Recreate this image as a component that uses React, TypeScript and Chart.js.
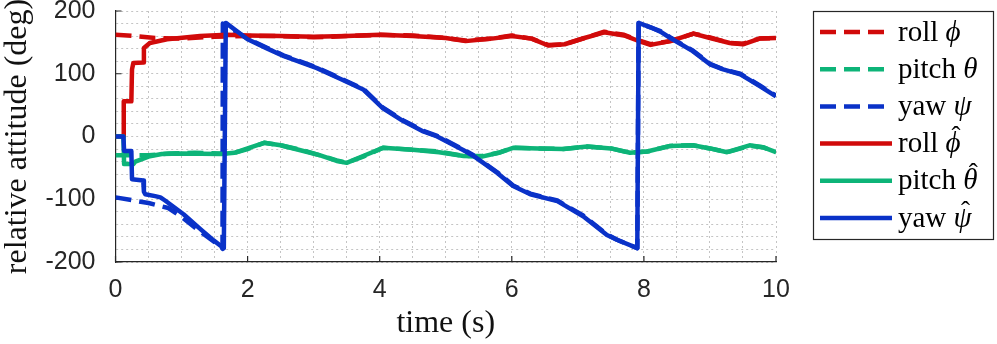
import React, { useEffect, useRef } from 'react';
import { Chart, registerables } from 'chart.js';

Chart.register(...registerables);

// ---------- data ----------
const rollT = [0, 0.3, 0.6, 1.0, 1.5, 2.0, 2.5, 3.0, 3.5, 4.0, 4.5, 5.0, 5.3, 5.7, 6.0, 6.3, 6.55, 6.8, 7.1, 7.4, 7.7, 7.9, 8.1, 8.4, 8.75, 9.0, 9.3, 9.5, 9.75, 10];
const rollV = [162, 160, 157, 156, 159, 160, 160, 158, 160, 162, 161, 157, 153, 156, 161, 156, 146, 147, 157, 167, 162, 154, 147, 152, 164, 158, 149, 148, 156, 157];

const pitchT = [0, 0.5, 0.8, 1.2, 1.6, 1.8, 2.0, 2.25, 2.5, 2.8, 3.1, 3.35, 3.5, 3.75, 4.05, 4.5, 4.9, 5.27, 5.55, 5.8, 6.02, 6.4, 6.78, 7.14, 7.5, 7.79, 8.05, 8.4, 8.74, 9.0, 9.26, 9.6, 9.8, 10];
const pitchV = [-30, -30, -27, -26, -27, -26, -20, -10, -14, -21, -30, -38, -42, -32, -18, -21, -24, -31, -31, -26, -18, -19, -20, -16, -19, -26, -24, -15, -14, -19, -25, -15, -17, -25];

const yawT = [0, 0.5, 0.8, 1.0, 1.3, 1.6, 1.62, 1.625, 2.0, 2.3, 2.55, 3.05, 3.4, 3.75, 4.05, 4.35, 4.66, 4.87, 5.27, 5.42, 5.78, 6.02, 6.28, 6.69, 7.08, 7.44, 7.6, 7.9, 7.92, 8.1, 8.25, 8.4, 8.74, 9.0, 9.2, 9.46, 9.76, 10];
const yawV = [-97, -106, -114, -128, -153, -176, -179, 180, 156, 141, 129, 110, 93, 76, 46, 26, 9, 1, -21, -30, -57, -78, -91, -102, -126, -156, -165, -178, 181, 174, 168, 158, 137, 116, 107, 100, 81, 65];

const rollHatT = [0, 0.12, 0.125, 0.24, 0.25, 0.27, 0.42, 0.43, 0.52, 0.78, 1.28, 1.69, 2.0, 2.5, 3.0, 3.5, 4.0, 4.5, 5.0, 5.3, 5.7, 6.0, 6.3, 6.55, 6.8, 7.1, 7.4, 7.7, 7.9, 8.1, 8.4, 8.75, 9.0, 9.3, 9.5, 9.75, 10];
const rollHatV = [0, 0, 56, 56, 107, 117, 118, 141, 149, 155, 160, 162, 161, 160, 159, 160, 162, 160, 157, 152, 156, 160, 156, 145, 147, 157, 166, 161, 153, 146, 152, 164, 157, 149, 147, 156, 157];

const pitchHatT = [0, 0.12, 0.13, 0.27, 0.3, 0.5, 0.7, 1.0, 1.6, 1.8, 2.0, 2.25, 2.5, 2.8, 3.1, 3.35, 3.5, 3.75, 4.05, 4.5, 4.9, 5.27, 5.55, 5.8, 6.02, 6.4, 6.78, 7.14, 7.5, 7.79, 8.05, 8.4, 8.74, 9.0, 9.26, 9.6, 9.8, 10];
const pitchHatV = [0, 0, -44, -44, -40, -32, -28, -27, -28, -26, -19, -10, -14, -22, -30, -39, -42, -31, -18, -21, -25, -31, -32, -26, -18, -19, -20, -16, -19, -26, -24, -15, -14, -19, -25, -14, -17, -25];

const yawHatT = [0, 0.12, 0.13, 0.24, 0.25, 0.42, 0.43, 0.45, 0.6, 0.68, 0.75, 1.03, 1.29, 1.49, 1.64, 1.67, 2.0, 2.3, 2.55, 3.05, 3.4, 3.75, 4.05, 4.35, 4.66, 4.87, 5.27, 5.42, 5.78, 6.02, 6.28, 6.69, 7.08, 7.44, 7.6, 7.9, 7.92, 8.1, 8.25, 8.4, 8.74, 9.0, 9.2, 9.46, 9.76, 10];
const yawHatV = [0, 0, -23, -23, -68, -70, -88, -92, -95, -97, -102, -124, -148, -166, -178, 181, 155, 140, 128, 109, 92, 75, 45, 25, 8, 0, -22, -31, -58, -79, -92, -103, -127, -157, -165, -178, 181, 174, 167, 157, 136, 115, 107, 99, 80, 64];

const legendNames = ['roll', 'pitch', 'yaw', 'roll', 'pitch', 'yaw'];
const legendSymbols = ['\u03D5', '\u03B8', '\u03C8', '\u03D5', '\u03B8', '\u03C8'];
const legendHats = [false, false, false, true, true, true];

const xMajorTicks = [0, 2, 4, 6, 8, 10];
const yMajorTicks = [-200, -100, 0, 100, 200];

const xTitle = 'time (s)';
const yTitle = 'relative attitude (deg)';

// ---------- styles ----------
const RED = '#d10a0a';
const GREEN = '#0db478';
const BLUE = '#0a32c8';
const AXIS = '#262626';
const GRID = '#c4c4c4';
const DASH = [16, 8];
const LW = 4.5;
const SANS = '"Liberation Sans", Arial, Helvetica, sans-serif';
const SERIF = '"Liberation Serif", "Times New Roman", serif';

const toPts = (t: number[], v: number[]) => t.map((x, i) => ({ x, y: v[i] }));

const inwardTicks = {
  id: 'inwardTicks',
  beforeDatasetsDraw(chart: any) {
    const { ctx, chartArea, scales } = chart;
    ctx.save();
    ctx.strokeStyle = AXIS;
    ctx.lineWidth = 1.2;
    ctx.beginPath();
    xMajorTicks.forEach((v) => {
      const px = scales.x.getPixelForValue(v);
      ctx.moveTo(px, chartArea.bottom);
      ctx.lineTo(px, chartArea.bottom - 6);
    });
    yMajorTicks.forEach((v) => {
      const py = scales.y.getPixelForValue(v);
      ctx.moveTo(chartArea.left, py);
      ctx.lineTo(chartArea.left + 6, py);
    });
    ctx.stroke();
    ctx.restore();
  },
};

const legendBox = {
  id: 'legendBox',
  afterDraw(chart: any) {
    const { ctx } = chart;
    const x0 = 813, y0 = 11, w = 180, h = 228;
    ctx.save();
    ctx.fillStyle = '#ffffff';
    ctx.fillRect(x0, y0, w, h);
    ctx.strokeStyle = AXIS;
    ctx.lineWidth = 1.2;
    ctx.strokeRect(x0 + 0.5, y0 + 0.5, w, h);
    chart.data.datasets.forEach((ds: any, i: number) => {
      const y = y0 + 21 + i * 37.2;
      ctx.strokeStyle = ds.borderColor;
      ctx.lineWidth = LW;
      ctx.setLineDash(ds.borderDash || []);
      ctx.beginPath();
      ctx.moveTo(820, y);
      ctx.lineTo(892, y);
      ctx.stroke();
      ctx.setLineDash([]);
      ctx.fillStyle = '#000';
      ctx.textBaseline = 'alphabetic';
      ctx.textAlign = 'left';
      ctx.font = `29px ${SERIF}`;
      const name = legendNames[i] + ' ';
      ctx.fillText(name, 898, y + 8.5);
      const wName = ctx.measureText(name).width;
      ctx.font = `italic 29px ${SERIF}`;
      const sym = legendSymbols[i];
      ctx.fillText(sym, 898 + wName, y + 8.5);
      if (legendHats[i]) {
        const wSym = ctx.measureText(sym).width;
        ctx.font = `27px ${SERIF}`;
        ctx.textAlign = 'center';
        ctx.fillText('\u02C6', 898 + wName + wSym / 2 + 3, y + 8.5 - 7);
      }
    });
    ctx.restore();
  },
};

export default function App() {
  const ref = useRef<HTMLCanvasElement | null>(null);

  useEffect(() => {
    if (!ref.current) return;
    const mk = (label: string, t: number[], v: number[], color: string, dashed: boolean, order: number) => ({
      label,
      data: toPts(t, v),
      borderColor: color,
      backgroundColor: color,
      borderWidth: LW,
      borderDash: dashed ? DASH : [],
      borderJoinStyle: 'round' as const,
      pointRadius: 0,
      pointHoverRadius: 0,
      fill: false,
      tension: 0,
      order,
    });
    const chart = new Chart(ref.current, {
      type: 'line',
      data: {
        datasets: [
          mk('roll ϕ', rollT, rollV, RED, true, 5),
          mk('pitch θ', pitchT, pitchV, GREEN, true, 4),
          mk('yaw ψ', yawT, yawV, BLUE, true, 3),
          mk('roll ϕ̂', rollHatT, rollHatV, RED, false, 2),
          mk('pitch θ̂', pitchHatT, pitchHatV, GREEN, false, 1),
          mk('yaw ψ̂', yawHatT, yawHatV, BLUE, false, 0),
        ],
      },
      options: {
        responsive: false,
        animation: false,
        devicePixelRatio: 1,
        layout: { padding: { left: 0, right: 221, top: 11, bottom: 0 } },
        plugins: {
          legend: { display: false },
          tooltip: { enabled: false },
        },
        scales: {
          x: {
            type: 'linear',
            min: 0,
            max: 10,
            afterFit: (s: any) => {
              s.height = 82;
              s.paddingLeft = 0;
              s.paddingRight = 0;
            },
            ticks: {
              stepSize: 0.5,
              autoSkip: false,
              maxRotation: 0,
              padding: 13,
              color: AXIS,
              font: { family: SANS, size: 25 },
              callback: (v: any) => (Math.abs(Number(v) % 2) < 1e-6 ? String(Math.round(Number(v))) : ''),
            },
            grid: { color: GRID, lineWidth: 1, drawTicks: false },
            border: { display: true, color: AXIS, width: 1.2, dash: [2, 3] },
            title: {
              display: true,
              text: xTitle,
              color: '#111',
              font: { family: SERIF, size: 32 },
              padding: { top: 0, bottom: 1 },
            },
          },
          y: {
            type: 'linear',
            min: -200,
            max: 200,
            afterFit: (s: any) => {
              s.width = 115.5;
              s.paddingTop = 0;
              s.paddingBottom = 0;
            },
            ticks: {
              stepSize: 20,
              autoSkip: false,
              padding: 20,
              color: AXIS,
              font: { family: SANS, size: 25 },
              callback: (v: any) => (Math.abs(Number(v) % 100) < 1e-6 ? String(Math.round(Number(v))) : ''),
            },
            grid: { color: GRID, lineWidth: 1, drawTicks: false },
            border: { display: true, color: AXIS, width: 1.2, dash: [2, 3] },
            title: {
              display: true,
              text: yTitle,
              color: '#111',
              font: { family: SERIF, size: 32, lineHeight: 1.1 },
              padding: { top: 0, bottom: 0 },
            },
          },
        },
      },
      plugins: [inwardTicks, legendBox],
    });
    return () => chart.destroy();
  }, []);

  return (
    <div style={{ position: 'fixed', left: 0, top: 0, width: 997, height: 344, background: '#fff' }}>
      <canvas ref={ref} width={997} height={344} style={{ display: 'block', width: 997, height: 344 }} />
    </div>
  );
}
